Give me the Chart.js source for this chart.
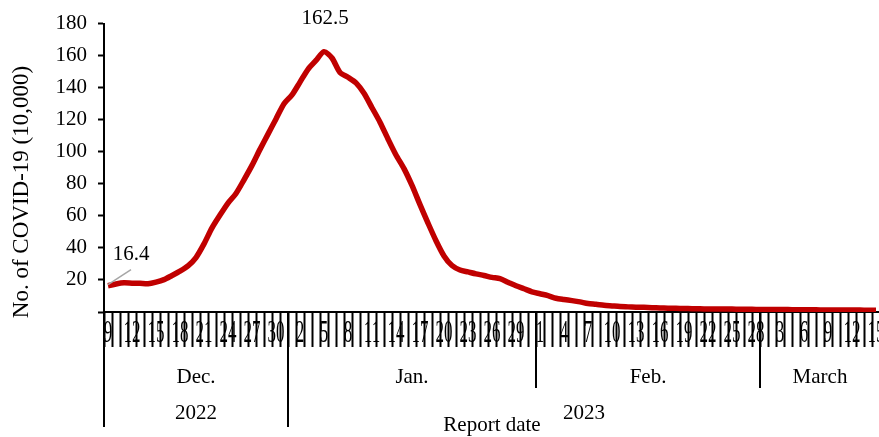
<!DOCTYPE html>
<html>
<head>
<meta charset="utf-8">
<script src="https://cdn.jsdelivr.net/npm/chart.js@4"></script>
<style>
  html, body { margin: 0; padding: 0; overflow: hidden; background: #fff; }
  #wrap { position: relative; width: 900px; height: 437px; }
</style>
</head>
<body>
<div id="wrap"><canvas id="chart"></canvas></div>
<script>
// month spans of the report dates: [label, first day, last day, year]
const monthSpans = [
  ["Dec.",  9, 31, "2022"],
  ["Jan.",  1, 31, "2023"],
  ["Feb.",  1, 28, "2023"],
  ["March", 1, 15, "2023"]
];

const days = [];
const dayMonth = [];
monthSpans.forEach((m, mi) => {
  for (let d = m[1]; d <= m[2]; d++) { days.push(d); dayMonth.push(mi); }
});

// No. of COVID-19 cases (10,000), Dec 9 2022 - Mar 15 2023
const cases = [
  16.4, 17.5, 18.2, 18.0, 17.9, 17.6, 18.6, 20.2, 22.8, 25.5,
  28.8, 34.0, 42.5, 52.5, 60.5, 68.0, 74.0, 82.5, 91.5, 101.5,
  111.0, 120.5, 130.0, 135.5, 143.5, 151.5, 157.0, 162.5, 158.5, 149.5,
  146.5, 143.0, 136.5, 127.5, 118.5, 108.0, 98.0, 89.5, 79.0, 67.0,
  55.5, 44.5, 35.0, 29.0, 26.2, 25.0, 23.8, 22.8, 21.6, 20.8,
  18.6, 16.4, 14.5, 12.6, 11.4, 10.2, 8.6, 7.8, 7.1, 6.3,
  5.3, 4.8, 4.2, 3.8, 3.4, 3.2, 3.0, 2.9, 2.7, 2.5,
  2.4, 2.3, 2.2, 2.1, 2.0, 1.9, 1.9, 1.8, 1.8, 1.7,
  1.7, 1.6, 1.6, 1.5, 1.5, 1.5, 1.4, 1.4, 1.4, 1.3,
  1.3, 1.3, 1.2, 1.2, 1.2, 1.1, 1.1
];

const yearGroups = [["2022", 0, 22], ["2023", 23, 96]];
const callouts = [{ idx: 0, text: "16.4" }, { idx: 27, text: "162.5" }];

const SERIF = '"Liberation Serif", "Times New Roman", serif';

const overlay = {
  id: "overlay",
  afterDraw(chart) {
    const { ctx, scales: { x, y } } = chart;
    const half = (x.getPixelForValue(1) - x.getPixelForValue(0)) / 2;
    const edge = i => x.getPixelForValue(i) - half;
    const base = y.getPixelForValue(0);

    ctx.save();
    ctx.fillStyle = "#000";
    ctx.strokeStyle = "#000";
    ctx.textAlign = "center";
    ctx.textBaseline = "middle";

    // day numbers, every third day, tall narrow like the original
    ctx.font = "32px " + SERIF;
    days.forEach((d, i) => {
      if (i % 3) return;
      ctx.save();
      ctx.translate(x.getPixelForValue(i), base + 22);
      ctx.scale(0.53, 1);
      ctx.fillText(String(d), 0, 0);
      ctx.restore();
    });

    // month / year dividers
    ctx.lineWidth = 2;
    const starts = [];
    dayMonth.forEach((m, i) => { if (i === 0 || dayMonth[i - 1] !== m) starts.push(i); });
    const yearStarts = yearGroups.map(g => g[1]);
    starts.forEach(i => {
      const px = Math.round(edge(i));
      ctx.beginPath();
      ctx.moveTo(px, base);
      ctx.lineTo(px, yearStarts.includes(i) ? base + 115 : base + 76);
      ctx.stroke();
    });

    // month names
    ctx.font = "21px " + SERIF;
    starts.forEach((s, k) => {
      const e = k + 1 < starts.length ? starts[k + 1] - 1 : days.length - 1;
      ctx.fillText(monthSpans[k][0], (edge(s) + edge(e + 1)) / 2, base + 65);
    });
    // years
    yearGroups.forEach(g => {
      ctx.fillText(g[0], (edge(g[1]) + edge(g[2] + 1)) / 2, base + 101);
    });

    // axis titles
    ctx.fillText("Report date", 492, base + 113);
    ctx.save();
    ctx.translate(22, 192);
    ctx.rotate(-Math.PI / 2);
    ctx.font = "23px " + SERIF;
    ctx.fillText("No. of COVID-19 (10,000)", 0, 0);
    ctx.restore();

    // value callouts
    const p0x = x.getPixelForValue(callouts[0].idx), p0y = y.getPixelForValue(cases[callouts[0].idx]);
    ctx.strokeStyle = "#a6a6a6";
    ctx.lineWidth = 1.5;
    ctx.beginPath();
    ctx.moveTo(p0x, p0y - 1);
    ctx.lineTo(p0x + 23, p0y - 16);
    ctx.stroke();
    ctx.fillText(callouts[0].text, p0x + 23, p0y - 31);
    const p1x = x.getPixelForValue(callouts[1].idx), p1y = y.getPixelForValue(cases[callouts[1].idx]);
    ctx.fillText(callouts[1].text, p1x + 1, p1y - 33);

    ctx.restore();
  }
};

new Chart(document.getElementById("chart"), {
  type: "line",
  data: {
    labels: days,
    datasets: [{
      data: cases,
      borderColor: "#c00000",
      borderWidth: 5.5,
      pointRadius: 0,
      tension: 0.25,
      fill: false
    }]
  },
  options: {
    responsive: true,
    maintainAspectRatio: false,
    animation: false,
    devicePixelRatio: 1,
    layout: { padding: { top: 16, right: 20, left: 0, bottom: 0 } },
    plugins: { legend: { display: false }, tooltip: { enabled: false } },
    scales: {
      x: {
        type: "category",
        offset: true,
        border: { display: true, color: "#000", width: 2 },
        grid: { offset: true, drawOnChartArea: false, drawTicks: true, tickLength: 35, tickWidth: 2, tickColor: "#000" },
        ticks: { display: false, autoSkip: false },
        afterFit(s) { s.height = 125; }
      },
      y: {
        min: 0,
        max: 180,
        border: { color: "#000", width: 2 },
        grid: { drawOnChartArea: false, tickLength: 6, tickWidth: 2, tickColor: "#000" },
        ticks: {
          stepSize: 20,
          color: "#000",
          padding: 11,
          font: { family: SERIF, size: 21 },
          callback: v => v === 0 ? "" : v
        },
        afterFit(s) { s.width = 104; }
      }
    }
  },
  plugins: [overlay]
});
</script>
</body>
</html>
